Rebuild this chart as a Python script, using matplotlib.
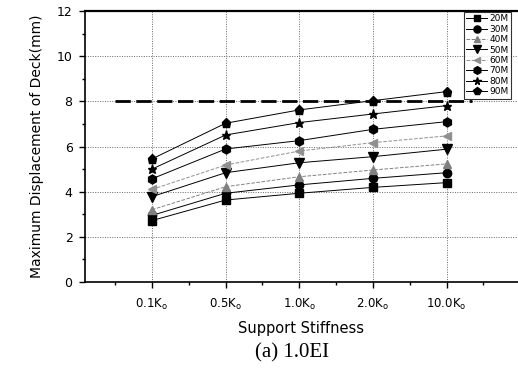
import matplotlib
matplotlib.use("Agg")
import matplotlib.pyplot as plt
from matplotlib.ticker import MultipleLocator, FixedLocator

# ---- data ----
categories = ["0.1K$_{o}$", "0.5K$_{o}$", "1.0K$_{o}$", "2.0K$_{o}$", "10.0K$_{o}$"]
series_labels = ["20M", "30M", "40M", "50M", "60M", "70M", "80M", "90M"]
d20 = [2.72, 3.63, 3.93, 4.19, 4.40]
d30 = [2.95, 3.93, 4.30, 4.59, 4.84]
d40 = [3.20, 4.22, 4.66, 4.96, 5.23]
d50 = [3.78, 4.84, 5.28, 5.55, 5.88]
d60 = [4.10, 5.18, 5.80, 6.17, 6.47]
d70 = [4.57, 5.89, 6.26, 6.76, 7.10]
d80 = [5.00, 6.51, 7.06, 7.44, 7.81]
d90 = [5.45, 7.03, 7.62, 8.03, 8.43]
series_values = [d20, d30, d40, d50, d60, d70, d80, d90]
limit_x = [0.5, 5.35]
limit_y = [8.0, 8.0]

plt.rcParams['mathtext.default'] = 'regular'
plt.rcParams['font.family'] = ['DejaVu Sans']

fig = plt.figure(figsize=(5.18, 3.72), dpi=100)
ax = fig.add_axes([85/518, 1-282/372, 1-85/518, (282-11)/372])

xpos = list(range(1, len(categories)+1))
markers = ['s', 'o', '^', 'v', '<', 'h', '*', 'p']
colors = ['black', 'black', '#808080', 'black', '#909090', 'black', 'black', 'black']
styles = ['-', '-', '--', '-', '--', '-', '-', '-']
msizes = [5.5, 6, 5.5, 6.5, 5.5, 6.5, 6.5, 6.5]

ax.plot(limit_x, limit_y, color='black', lw=2.0, dashes=(5.5, 2.0), zorder=3)

for vals, lab, m, c, ls, ms in zip(series_values, series_labels, markers, colors, styles, msizes):
    ax.plot(xpos, vals, marker=m, color=c, ls=ls, lw=0.7, markersize=ms,
            markeredgecolor=c, markerfacecolor=c, label=lab, zorder=4)

ax.set_xlim(0.09, 5.97)
ax.set_ylim(0, 12)
ax.xaxis.set_major_locator(FixedLocator(xpos))
ax.xaxis.set_minor_locator(FixedLocator([0.5, 1.5, 2.5, 3.5, 4.5, 5.5]))
ax.set_xticklabels(categories, fontsize=8.5)
ax.yaxis.set_major_locator(MultipleLocator(2))
ax.yaxis.set_minor_locator(MultipleLocator(1))
ax.tick_params(axis='y', labelsize=9, length=4, width=1, pad=5)
ax.tick_params(axis='x', length=4, width=1, pad=7)
ax.tick_params(which='minor', length=2.5, width=1)

ax.grid(True, which='major', color='#666666', ls=(0, (1, 1.5)), lw=0.7)
ax.set_axisbelow(True)

for s in ['left', 'bottom']:
    ax.spines[s].set_linewidth(1.2)
ax.spines['top'].set_linewidth(1.6)
ax.spines['right'].set_visible(False)

ax.set_ylabel("Maximum Displacement of Deck(mm)", fontsize=10, labelpad=9)
ax.set_xlabel("Support Stiffness", fontsize=10.5, labelpad=6)

leg = ax.legend(loc='upper right', bbox_to_anchor=(511/518, 1-12/372),
                bbox_transform=fig.transFigure, fontsize=6.5, frameon=True,
                fancybox=False, edgecolor='black', handlelength=2.3,
                handletextpad=0.25, labelspacing=0.16, borderpad=0.25,
                borderaxespad=0, markerscale=0.85)
leg.get_frame().set_linewidth(0.8)

fig.text(292/518, 1-353/372, "(a) 1.0EI", family='Liberation Serif', fontsize=15,
         ha='center', va='center')

fig.savefig("out.png", dpi=100)
